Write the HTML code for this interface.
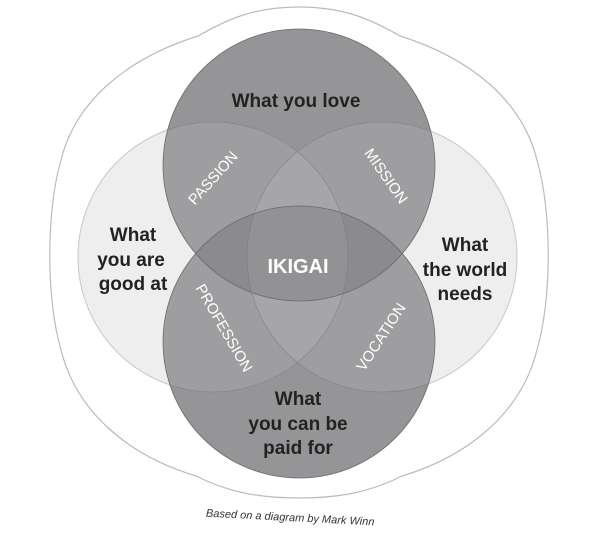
<!DOCTYPE html>
<html><head><style>body{margin:0;background:#fff}</style></head><body>
<svg width="613" height="546" viewBox="0 0 613 546" xmlns="http://www.w3.org/2000/svg" font-family="Liberation Sans, sans-serif">
<defs>
<clipPath id="cT"><circle cx="299" cy="165" r="136"/></clipPath>
<clipPath id="cB"><circle cx="299" cy="342" r="136"/></clipPath>
<clipPath id="cL"><circle cx="213" cy="257" r="135"/></clipPath>
<clipPath id="cR"><circle cx="382" cy="257" r="135"/></clipPath>
</defs>
<path d="M299,7 C345,7 372,20 400,36 C470,58 522,100 537,160 C552,212 552,298 537,350 C522,410 472,455 402,476 C374,490 345,498 299,498 C253,498 224,490 196,476 C126,455 76,410 61,350 C46,298 46,212 61,160 C76,100 128,58 198,36 C226,20 253,7 299,7 Z" fill="#fff" stroke="#bbb" stroke-width="1.2"/>
<g stroke="#c8c8c8" stroke-width="1" fill="#eeeeee">
<circle cx="213" cy="257" r="135"/><circle cx="382" cy="257" r="135"/>
</g>
<g fill="#959597">
<circle cx="299" cy="165" r="136"/><circle cx="299" cy="342" r="136"/>
</g>
<g clip-path="url(#cT)"><circle cx="213" cy="257" r="135" fill="#9e9ea0"/><circle cx="382" cy="257" r="135" fill="#9e9ea0"/></g>
<g clip-path="url(#cB)"><circle cx="213" cy="257" r="135" fill="#9e9ea0"/><circle cx="382" cy="257" r="135" fill="#9e9ea0"/></g>
<g clip-path="url(#cL)"><circle cx="382" cy="257" r="135" fill="#a6a6a8"/></g>
<g clip-path="url(#cT)"><circle cx="299" cy="342" r="136" fill="#8b8b8d"/></g>
<g clip-path="url(#cT)"><g clip-path="url(#cB)"><g clip-path="url(#cL)"><circle cx="382" cy="257" r="135" fill="#929294"/></g></g></g>
<g fill="none" stroke="#6a6a6c" stroke-width="0.8">
<circle cx="299" cy="165" r="136"/><circle cx="299" cy="342" r="136"/>
</g>
<g fill="none" stroke="#808082" stroke-width="0.6" clip-path="url(#cT)">
<circle cx="213" cy="257" r="135"/><circle cx="382" cy="257" r="135"/>
</g>
<g fill="none" stroke="#808082" stroke-width="0.6" clip-path="url(#cB)">
<circle cx="213" cy="257" r="135"/><circle cx="382" cy="257" r="135"/>
</g>
<g fill="#222" font-weight="bold" font-size="19" text-anchor="middle">
<text x="296" y="107">What you love</text>
<text x="133" y="241">What</text><text x="131" y="266">you are</text><text x="133" y="290">good at</text>
<text x="465" y="251">What</text><text x="465" y="276">the world</text><text x="465" y="300">needs</text>
<text x="298" y="405">What</text><text x="298" y="430">you can be</text><text x="298" y="454">paid for</text>
</g>
<g fill="#fff" text-anchor="middle" font-size="15">
<text x="298" y="273" font-size="20" font-weight="bold">IKIGAI</text>
<text transform="translate(213,178) rotate(-48)" dy="5">PASSION</text>
<text transform="translate(386,176) rotate(55)" dy="5">MISSION</text>
<text transform="translate(224,328) rotate(60)" dy="5">PROFESSION</text>
<text transform="translate(381,337) rotate(-57)" dy="5">VOCATION</text>
</g>
<text x="290" y="521" font-size="11" fill="#333" text-anchor="middle" font-style="italic" transform="rotate(3 290 521)">Based on a diagram by Mark Winn</text>
</svg>
</body></html>
